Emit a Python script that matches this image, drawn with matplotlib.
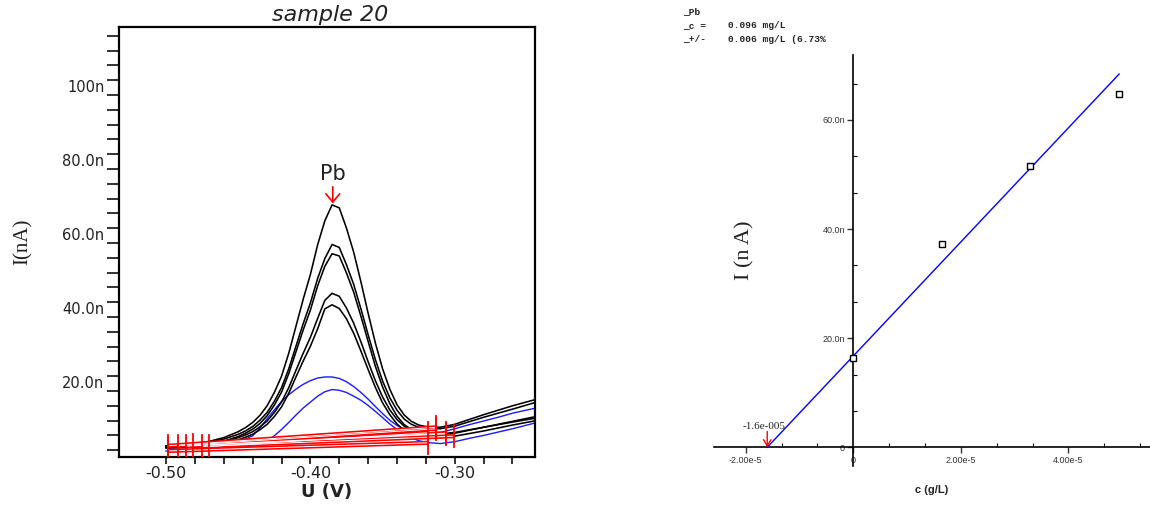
import matplotlib
matplotlib.use("Agg")
import matplotlib.pyplot as plt
from matplotlib.ticker import FixedLocator, FixedFormatter
from matplotlib.patches import FancyArrowPatch

# ---------------- voltammograms (U in V, I in nA) ----------------
potential = [-0.500, -0.490, -0.480, -0.470, -0.460, -0.450, -0.445, -0.440,
             -0.435, -0.430, -0.425, -0.420, -0.415, -0.410, -0.405, -0.400,
             -0.395, -0.390, -0.385, -0.380, -0.375, -0.370, -0.365, -0.360,
             -0.355, -0.350, -0.345, -0.340, -0.335, -0.330, -0.325, -0.320,
             -0.310, -0.300, -0.290, -0.280, -0.270, -0.260, -0.245]

# sample scans (blue)
i_sample_a = [4.6, 4.7, 4.8, 5.0, 5.4, 6.3, 7.0, 7.9, 10.0, 12.5, 14.9, 17.2,
              19.0, 20.5, 21.8, 22.8, 23.5, 23.8, 23.8, 23.4, 22.5, 21.2, 19.6,
              17.8, 15.8, 13.9, 12.1, 10.7, 9.7, 9.1, 8.8, 8.7, 8.8, 9.8, 10.9,
              11.9, 12.9, 14.0, 15.3]
i_sample_b = [3.8, 3.9, 4.0, 4.1, 4.3, 4.6, 4.9, 5.2, 5.8, 6.6, 7.9, 9.6,
              11.5, 13.5, 15.4, 17.0, 18.6, 19.8, 20.4, 20.2, 19.6, 18.6, 17.5,
              16.1, 14.5, 12.8, 11.1, 9.6, 8.3, 7.3, 6.6, 6.1, 5.8, 6.3, 7.2,
              8.0, 8.9, 9.8, 11.3]

# standard-addition scans (black)
i_add1_a = [4.9, 5.1, 5.3, 5.7, 6.4, 7.4, 8.1, 9.0, 10.3, 11.9, 14.2, 17.0,
            20.9, 25.6, 30.2, 34.5, 39.6, 44.5, 46.4, 45.6, 42.4, 38.3, 33.3,
            27.9, 22.8, 18.4, 14.9, 12.3, 10.5, 9.4, 8.8, 8.5, 8.4, 8.8, 9.5,
            10.2, 10.9, 11.6, 12.6]
i_add1_b = [4.6, 4.7, 4.9, 5.3, 5.9, 6.8, 7.5, 8.3, 9.5, 11.0, 13.1, 15.7,
            19.4, 23.8, 28.1, 32.1, 36.8, 42.2, 43.3, 42.3, 39.5, 35.6, 30.8,
            25.8, 21.0, 16.8, 13.6, 11.1, 9.3, 8.4, 7.8, 7.6, 7.4, 7.8, 8.5,
            9.2, 10.0, 10.8, 11.9]
i_add2_a = [5.0, 5.2, 5.6, 6.1, 7.0, 8.3, 9.2, 10.4, 12.1, 14.2, 17.2, 20.9,
            26.0, 32.1, 38.2, 43.8, 50.4, 55.8, 59.6, 58.8, 54.1, 48.8, 42.2,
            35.2, 28.5, 22.7, 18.2, 14.8, 12.4, 11.0, 10.2, 9.9, 9.8, 10.5,
            11.7, 12.9, 14.0, 15.1, 16.8]
i_add2_b = [4.8, 5.0, 5.2, 5.7, 6.4, 7.7, 8.6, 9.7, 11.2, 13.3, 16.2, 19.7,
            24.7, 30.6, 36.5, 41.9, 48.4, 53.7, 57.1, 56.5, 51.9, 46.7, 40.2,
            33.4, 26.7, 21.1, 16.6, 13.2, 10.9, 9.6, 8.7, 8.3, 8.2, 8.6, 9.4,
            10.2, 11.0, 11.8, 13.0]
i_add3 = [5.2, 5.4, 5.8, 6.4, 7.4, 9.0, 10.1, 11.5, 13.4, 16.0, 19.6, 24.0,
          30.2, 37.5, 44.8, 51.5, 59.5, 66.0, 70.3, 69.5, 64.0, 57.5, 49.5,
          41.0, 33.0, 26.0, 20.5, 16.3, 13.5, 11.8, 10.8, 10.4, 10.2, 11.0,
          12.3, 13.6, 14.8, 16.0, 17.6]

# peak baselines (order: add3, add2_a, add2_b, add1_a, add1_b, sample_a, sample_b)
base_left_u = [-0.4986, -0.4915, -0.4863, -0.4810, -0.4752, -0.4701, -0.4986]
base_left_i = [5.2, 5.2, 5.1, 5.3, 5.0, 5.0, 3.8]
base_right_u = [-0.3127, -0.3127, -0.3058, -0.3058, -0.3005, -0.3185, -0.3185]
base_right_i = [10.2, 9.8, 8.4, 8.6, 7.8, 8.7, 6.0]

pb_peak_u = -0.3845
pb_peak_i = 70.7

u_ticks = [-0.50, -0.40, -0.30]
u_tick_labels = ["-0.50", "-0.40", "-0.30"]
i_ticks = [20, 40, 60, 80, 100]
i_tick_labels = ["20.0n", "40.0n", "60.0n", "80.0n", "100n"]

# ---------------- standard-addition calibration ----------------
added_conc = [0.0, 1.65e-5, 3.29e-5, 4.93e-5]       # g/L
peak_current = [16.3, 37.2, 51.5, 64.8]              # nA
fit_conc = [-1.6e-5, 4.94e-5]
fit_current = [0.0, 68.4]
x_intercept = -1.6e-5

c_ticks = [-2e-5, 0.0, 2e-5, 4e-5]
c_tick_labels = ["-2.00e-5", "0", "2.00e-5", "4.00e-5"]
cal_i_ticks = [0, 20, 40, 60]
cal_i_tick_labels = ["0", "20.0n", "40.0n", "60.0n"]

result_lines = ["_Pb", "_c =", "_+/-"]
result_values = ["", "0.096 mg/L", "0.006 mg/L (6.73%"]

W, H = 1150, 505
fig = plt.figure(figsize=(W / 100, H / 100), dpi=100)
fig.patch.set_facecolor("white")

# ================= left: voltammograms =================
ax = fig.add_axes([119 / W, 1 - 456.5 / H, 416 / W, 429.2 / H])
ax.set_xlim(-0.5326, -0.2444)
ax.set_ylim(2.3, 118.3)

for y in (i_sample_a, i_sample_b):
    ax.plot(potential, y, color="#1a1aff", lw=1.0, zorder=2)
for y in (i_add1_a, i_add1_b, i_add2_a, i_add2_b, i_add3):
    ax.plot(potential, y, color="black", lw=1.15, zorder=3)

# baselines with end markers
for ul, il, ur, ir in zip(base_left_u, base_left_i, base_right_u, base_right_i):
    ax.plot([ul, ur], [il, ir], color="red", lw=3.0, zorder=4,
            solid_capstyle="butt")
    ax.plot([ul, ur], [il, ir], color="white", lw=0.7, zorder=5,
            solid_capstyle="butt")
for ul, il in zip(base_left_u, base_left_i):
    ax.plot([ul, ul], [il - 3.0, il + 3.0], color="red", lw=1.3, zorder=6)
for ur, ir in zip(base_right_u, base_right_i):
    ax.plot([ur, ur], [ir - 3.0, ir + 3.0], color="red", lw=1.3, zorder=6)

# Pb peak marker
ax.add_patch(FancyArrowPatch((pb_peak_u, pb_peak_i + 4.5), (pb_peak_u, pb_peak_i),
                             arrowstyle="->,head_length=0.3,head_width=0.25",
                             mutation_scale=20, color="red", lw=1.2,
                             shrinkA=0, shrinkB=0, zorder=7))
ax.text(pb_peak_u, pb_peak_i + 8.0, "Pb", ha="center", va="center",
        fontsize=15, family="DejaVu Sans", color="#222222")

for s in ax.spines.values():
    s.set_linewidth(1.6)

ax.xaxis.set_major_locator(FixedLocator(u_ticks))
ax.xaxis.set_major_formatter(FixedFormatter(u_tick_labels))
ax.xaxis.set_minor_locator(FixedLocator([-0.48, -0.46, -0.44, -0.42, -0.38,
                                         -0.36, -0.34, -0.32, -0.28, -0.26]))
ax.yaxis.set_major_locator(FixedLocator(i_ticks))
ax.yaxis.set_major_formatter(FixedFormatter(i_tick_labels))
ax.yaxis.set_minor_locator(FixedLocator([v for v in range(4, 117, 4) if v % 20]))

ax.tick_params(axis="x", which="both", direction="out", length=5, width=1.3,
               labelsize=11.5, pad=2, colors="#222222")
ax.tick_params(axis="y", which="both", direction="out", length=9, width=1.3,
               labelsize=10.5, pad=1.5, colors="#222222")
for lbl in ax.get_yticklabels():
    lbl.set_verticalalignment("bottom")

fig.text(330 / W, 1 - 15 / H, "sample 20", ha="center", va="center",
         fontsize=16, style="italic", family="DejaVu Sans", color="#222222")
fig.text(327 / W, 1 - 492 / H, "U (V)", ha="center", va="center",
         fontsize=13, weight="bold", family="DejaVu Sans", color="#222222")
fig.text(23 / W, 1 - 242 / H, "I(nA)", ha="center", va="center", rotation=90,
         fontsize=15, family="Liberation Serif", color="#222222")

# ================= right: calibration =================
ax2 = fig.add_axes([714.3 / W, 1 - 466 / H, 435.7 / W, 411 / H])
ax2.set_xlim(-2.584e-5, 5.515e-5)
ax2.set_ylim(-3.43, 71.9)
ax2.patch.set_alpha(0)
for side in ("top", "right"):
    ax2.spines[side].set_visible(False)
ax2.spines["left"].set_position(("data", 0))
ax2.spines["bottom"].set_position(("data", 0))
ax2.spines["left"].set_linewidth(1.2)
ax2.spines["bottom"].set_linewidth(1.2)

ax2.plot(fit_conc, fit_current, color="#0000ff", lw=1.0, zorder=3)
ax2.plot(added_conc, peak_current, ls="none", marker="s", ms=4.5,
         mfc="white", mec="black", mew=1.0, zorder=4)

ax2.add_patch(FancyArrowPatch((x_intercept, 2.9), (x_intercept, 0.0),
                              arrowstyle="->,head_length=0.3,head_width=0.18",
                              mutation_scale=15, color="red", lw=1.0,
                              shrinkA=0, shrinkB=0, zorder=5))
ax2.text(x_intercept - 0.06e-5, 3.9, "-1.6e-005", ha="center", va="center",
         fontsize=8, family="Liberation Serif", color="#222222")

ax2.xaxis.set_major_locator(FixedLocator(c_ticks))
ax2.xaxis.set_major_formatter(FixedFormatter(c_tick_labels))
ax2.xaxis.set_minor_locator(FixedLocator([k * 2e-5 / 3 for k in range(-3, 9) if k % 3]))
ax2.yaxis.set_major_locator(FixedLocator(cal_i_ticks))
ax2.yaxis.set_major_formatter(FixedFormatter(cal_i_tick_labels))
ax2.yaxis.set_minor_locator(FixedLocator([k * 20 / 3 for k in range(1, 11) if k % 3]))
ax2.tick_params(axis="both", which="major", direction="out", length=4, width=1.0,
                labelsize=6.5, pad=2, colors="#333333")
ax2.tick_params(axis="both", which="minor", direction="in", length=3, width=0.8)
for lbl in ax2.get_xticklabels() + ax2.get_yticklabels():
    lbl.set_family("Liberation Sans")

fig.text(932 / W, 1 - 490 / H, "c (g/L)", ha="center", va="center",
         fontsize=8, weight="bold", family="Liberation Sans", color="#222222")
fig.text(745 / W, 1 - 250 / H, "I (n A)", ha="center", va="center", rotation=90,
         fontsize=16, family="Liberation Serif", color="#222222")

for k, (name, value) in enumerate(zip(result_lines, result_values)):
    y = 1 - (12 + 13.5 * k) / H
    fig.text(683 / W, y, name, ha="left", va="center", fontsize=6.8,
             weight="bold", family="Liberation Mono", color="#222222")
    fig.text(728 / W, y, value, ha="left", va="center", fontsize=6.8,
             weight="bold", family="Liberation Mono", color="#222222")

fig.savefig("out.png", dpi=100, facecolor="white")
